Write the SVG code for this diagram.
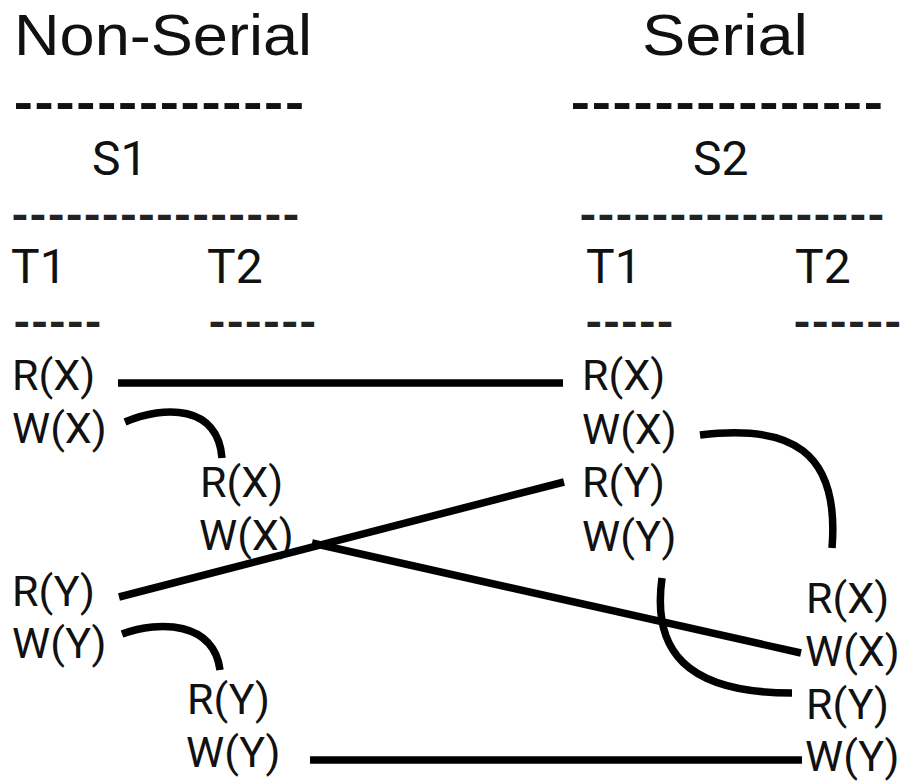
<svg xmlns="http://www.w3.org/2000/svg" width="907" height="782" viewBox="0 0 907 782">
  <style>
    .title { font-family: "Liberation Sans", Arial, sans-serif; font-size: 57px; fill: #111; }
    .head { font-family: Roboto, "Liberation Sans", sans-serif; font-size: 48px; fill: #111; }
    .op { font-family: Roboto, "Liberation Sans", sans-serif; font-size: 43px; fill: #111; }
    .rule1 { font-family: Roboto, "Liberation Sans", sans-serif; font-size: 54px; font-weight: bold; fill: #111; }
    .rule2 { font-family: Roboto, "Liberation Sans", sans-serif; font-size: 46px; font-weight: bold; fill: #222; }
    .link { fill: none; stroke: #000; stroke-width: 7.5; stroke-linecap: butt; }
  </style>

  <!-- Column headings -->
  <g id="heading-nonserial">
    <text class="title" x="14" y="55" textLength="298" lengthAdjust="spacingAndGlyphs">Non-Serial</text>
    <text class="rule1" x="13" y="122" textLength="292" lengthAdjust="spacingAndGlyphs">--------------</text>
    <text class="head" x="92" y="175">S1</text>
    <text class="rule2" x="11" y="232" textLength="289" lengthAdjust="spacingAndGlyphs">----------------</text>
    <text class="head" x="11" y="283">T1</text>
    <text class="head" x="207" y="283">T2</text>
    <text class="rule2" x="13" y="339" textLength="89" lengthAdjust="spacingAndGlyphs">-----</text>
    <text class="rule2" x="208" y="339" textLength="109" lengthAdjust="spacingAndGlyphs">------</text>
  </g>

  <g id="heading-serial">
    <text class="title" x="642" y="55" textLength="166" lengthAdjust="spacingAndGlyphs">Serial</text>
    <text class="rule1" x="570" y="122" textLength="314" lengthAdjust="spacingAndGlyphs">---------------</text>
    <text class="head" x="693" y="175">S2</text>
    <text class="rule2" x="579" y="232" textLength="306" lengthAdjust="spacingAndGlyphs">-----------------</text>
    <text class="head" x="586" y="283">T1</text>
    <text class="head" x="795" y="283">T2</text>
    <text class="rule2" x="585" y="339" textLength="89" lengthAdjust="spacingAndGlyphs">-----</text>
    <text class="rule2" x="793" y="339" textLength="109" lengthAdjust="spacingAndGlyphs">------</text>
  </g>

  <!-- Schedule S1 operations -->
  <g id="s1-t1-rx"><text class="op" x="12" y="390">R(X)</text></g>
  <g id="s1-t1-wx"><text class="op" x="12" y="443">W(X)</text></g>
  <g id="s1-t2-rx"><text class="op" x="200" y="497">R(X)</text></g>
  <g id="s1-t2-wx"><text class="op" x="199" y="550">W(X)</text></g>
  <g id="s1-t1-ry"><text class="op" x="12" y="606">R(Y)</text></g>
  <g id="s1-t1-wy"><text class="op" x="12" y="658">W(Y)</text></g>
  <g id="s1-t2-ry"><text class="op" x="187" y="714">R(Y)</text></g>
  <g id="s1-t2-wy"><text class="op" x="186" y="767">W(Y)</text></g>

  <!-- Schedule S2 operations -->
  <g id="s2-t1-rx"><text class="op" x="582" y="390">R(X)</text></g>
  <g id="s2-t1-wx"><text class="op" x="582" y="444">W(X)</text></g>
  <g id="s2-t1-ry"><text class="op" x="582" y="497">R(Y)</text></g>
  <g id="s2-t1-wy"><text class="op" x="582" y="551">W(Y)</text></g>
  <g id="s2-t2-rx"><text class="op" x="806" y="613">R(X)</text></g>
  <g id="s2-t2-wx"><text class="op" x="805" y="666">W(X)</text></g>
  <g id="s2-t2-ry"><text class="op" x="806" y="719">R(Y)</text></g>
  <g id="s2-t2-wy"><text class="op" x="805" y="771">W(Y)</text></g>

  <!-- Matching operations between the two schedules -->
  <g id="connectors">
    <path class="link" d="M118,383 L563,383"/>
    <path class="link" d="M125,422 C165,405 218,405 222,458"/>
    <path class="link" d="M119,597 L564,482"/>
    <path class="link" d="M312,543 L801,653"/>
    <path class="link" d="M122,634 C160,620 214,622 220,670"/>
    <path class="link" d="M310,760 L802,760"/>
    <path class="link" d="M700,435 C790,424 840,450 832,548"/>
    <path class="link" d="M662,578 C652,650 685,693 792,693"/>
  </g>
</svg>
